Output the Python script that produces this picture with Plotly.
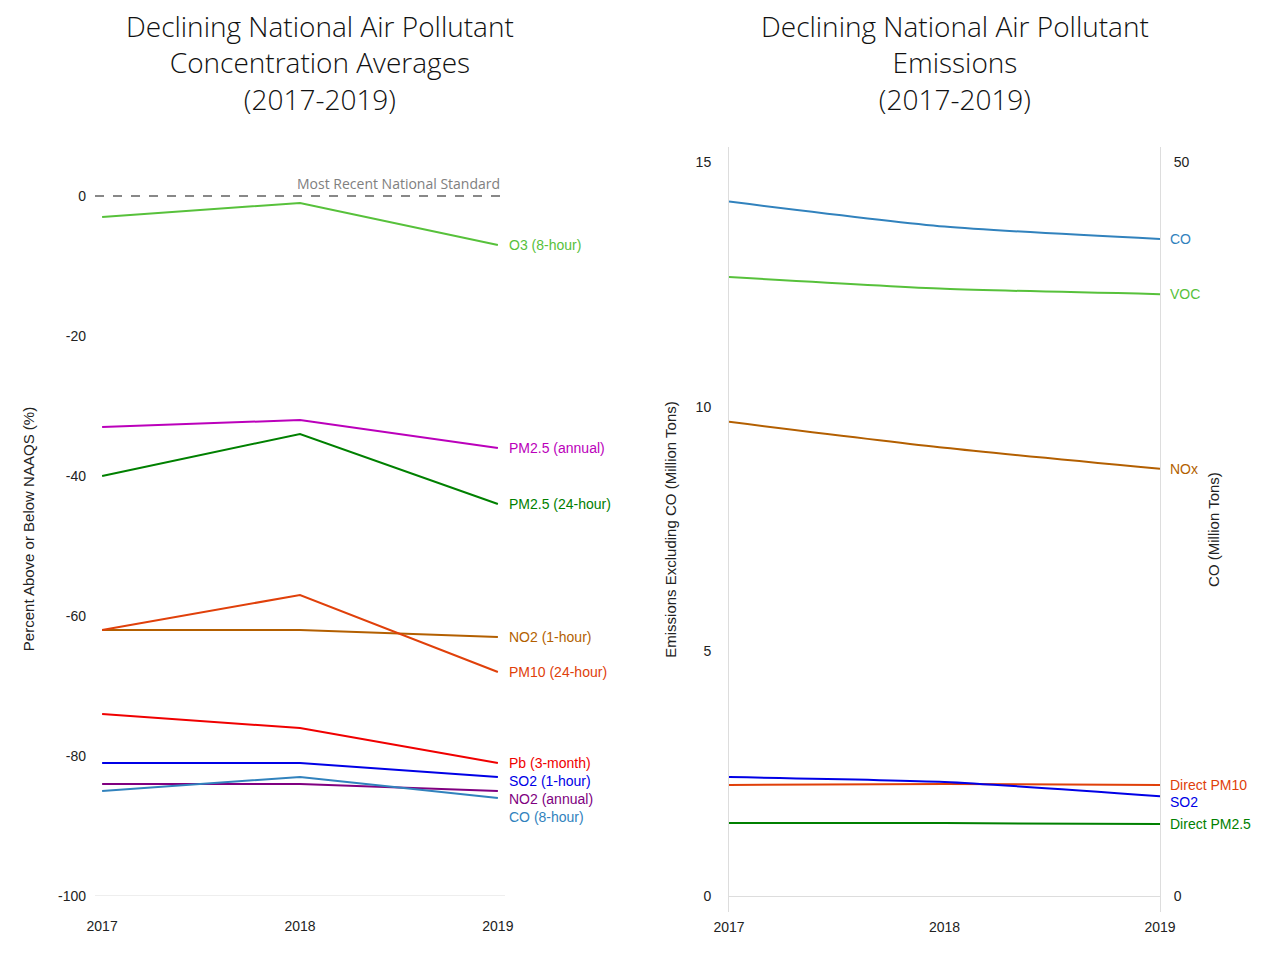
import plotly.graph_objects as go

years = [2017, 2018, 2019]

# left chart: percent above/below NAAQS
conc_names = ["O3 (8-hour)", "PM2.5 (annual)", "PM2.5 (24-hour)", "NO2 (1-hour)",
              "PM10 (24-hour)", "Pb (3-month)", "SO2 (1-hour)", "NO2 (annual)", "CO (8-hour)"]
o3_8h = [-3, -1, -7]
pm25_annual = [-33, -32, -36]
pm25_24h = [-40, -34, -44]
no2_1h = [-62, -62, -63]
pm10_24h = [-62, -57, -68]
pb_3m = [-74, -76, -81]
so2_1h = [-81, -81, -83]
no2_annual = [-84, -84, -85]
co_8h = [-85, -83, -86]
conc_values = [o3_8h, pm25_annual, pm25_24h, no2_1h, pm10_24h, pb_3m, so2_1h, no2_annual, co_8h]
conc_colors = ["#57c13b", "#bb00bb", "#008000", "#b35f00", "#e0400a",
               "#f00000", "#0000e6", "#800080", "#3182bd"]
conc_label_shift = [0, 0, 0, 0, 0, 0, -4, -8, -19]
conc_ticks = [0, -20, -40, -60, -80, -100]

# right chart: emissions (million tons)
emis_names = ["VOC", "NOx", "Direct PM10", "SO2", "Direct PM2.5"]
voc = [12.65, 12.41, 12.30]
nox = [9.69, 9.16, 8.73]
pm10_direct = [2.27, 2.29, 2.27]
so2 = [2.43, 2.33, 2.04]
pm25_direct = [1.49, 1.49, 1.47]
emis_values = [voc, nox, pm10_direct, so2, pm25_direct]
emis_colors = ["#57c13b", "#b35f00", "#e0400a", "#0000e6", "#008000"]
emis_label_shift = [0, 0, 0, -6, 0]
co_emis = [47.3, 45.6, 44.75]
co_color = "#3182bd"

fig = go.Figure()

for name, vals, col, sh in zip(conc_names, conc_values, conc_colors, conc_label_shift):
    fig.add_trace(go.Scatter(x=years, y=vals, mode="lines", name=name,
                             line=dict(color=col, width=2), xaxis="x", yaxis="y",
                             showlegend=False))
    fig.add_annotation(x=years[-1], y=vals[-1], xref="x", yref="y", text=name,
                       showarrow=False, xanchor="left", xshift=9, yshift=sh,
                       font=dict(color=col, size=14, family="Liberation Sans"))

# standard line at zero
fig.add_trace(go.Scatter(x=[2017 - 0.036, 2019 + 0.036], y=[0, 0], mode="lines",
                         line=dict(color="#888888", width=2, dash="dash"),
                         xaxis="x", yaxis="y", showlegend=False, hoverinfo="skip"))
fig.add_annotation(x=2019 + 0.02, y=0, xref="x", yref="y", text="Most Recent National Standard",
                   showarrow=False, xanchor="right", yanchor="bottom", yshift=1,
                   font=dict(color="#808080", size=14, family="Open Sans"))

for name, vals, col, sh in zip(emis_names, emis_values, emis_colors, emis_label_shift):
    fig.add_trace(go.Scatter(x=years, y=vals, mode="lines", name=name,
                             line=dict(color=col, width=2, shape="spline", smoothing=0.6),
                             xaxis="x2", yaxis="y2", showlegend=False))
    fig.add_annotation(x=years[-1], y=vals[-1], xref="x2", yref="y2", text=name,
                       showarrow=False, xanchor="left", xshift=8, yshift=sh,
                       font=dict(color=col, size=14, family="Liberation Sans"))

fig.add_trace(go.Scatter(x=years, y=co_emis, mode="lines", name="CO",
                         line=dict(color=co_color, width=2, shape="spline", smoothing=0.6),
                         xaxis="x2", yaxis="y3", showlegend=False))
fig.add_annotation(x=years[-1], y=co_emis[-1], xref="x2", yref="y3", text="CO",
                   showarrow=False, xanchor="left", xshift=8,
                   font=dict(color=co_color, size=14, family="Liberation Sans"))

tick_font = dict(size=14, color="#222222", family="Liberation Sans")
axis_title_font = dict(size=15, color="#222222", family="Liberation Sans")
title_font = dict(size=28, color="#111111", family="Open Sans", weight=300)

fig.add_annotation(x=320 / 1280, y=1 - 5 / 960, xref="paper", yref="paper",
                   text="Declining National Air Pollutant<br>Concentration Averages<br>(2017-2019)",
                   showarrow=False, xanchor="center", yanchor="top", font=title_font)
fig.add_annotation(x=955 / 1280, y=1 - 5 / 960, xref="paper", yref="paper",
                   text="Declining National Air Pollutant<br>Emissions<br>(2017-2019)",
                   showarrow=False, xanchor="center", yanchor="top", font=title_font)

fig.update_layout(
    width=1280, height=960,
    margin=dict(l=0, r=0, t=0, b=0, autoexpand=False),
    plot_bgcolor="white", paper_bgcolor="white",
    xaxis=dict(domain=[95 / 1280, 505 / 1280], range=[2017 - 0.036, 2019 + 0.036],
               tickvals=years, showgrid=False, zeroline=False, tickfont=tick_font,
               ticks="", ticklabelstandoff=20, automargin=False),
    yaxis=dict(domain=[1 - 896 / 960, 1 - 162 / 960], range=[-100, 4.857],
               tickvals=conc_ticks, ticktext=[str(t) for t in conc_ticks],
               showgrid=False, zeroline=False,
               tickfont=tick_font, ticks="", ticklabelstandoff=8, automargin=False,
               title=dict(text="Percent Above or Below NAAQS (%)",
                          font=axis_title_font, standoff=19)),
    xaxis2=dict(domain=[729 / 1280, 1160 / 1280], range=[2017, 2019], tickvals=years,
                showgrid=False, zeroline=False, tickfont=tick_font, ticks="",
                ticklabelstandoff=5, anchor="y2", automargin=False),
    yaxis2=dict(domain=[1 - 912 / 960, 1 - 147 / 960], range=[-0.327, 15.307],
                tickvals=[0, 5, 10, 15], showgrid=False, zeroline=True,
                zerolinecolor="#dddddd", zerolinewidth=1,
                showline=True, linecolor="#dddddd", linewidth=1,
                tickfont=tick_font, ticks="", ticklabelstandoff=14, anchor="x2",
                automargin=False,
                title=dict(text="Emissions Excluding CO (Million Tons)",
                           font=axis_title_font, standoff=15)),
    yaxis3=dict(domain=[1 - 912 / 960, 1 - 147 / 960], range=[-1.09, 51.02],
                tickvals=[0, 50], showgrid=False, zeroline=False,
                showline=True, linecolor="#dddddd", linewidth=1,
                tickfont=tick_font, ticks="", ticklabelstandoff=10,
                overlaying="y2", side="right", anchor="x2", automargin=False,
                title=dict(text="CO (Million Tons)", font=axis_title_font, standoff=19)),
)

fig.add_shape(type="line", xref="x", yref="y", x0=2017 - 0.036, x1=2019 + 0.036,
              y0=-100, y1=-100, line=dict(color="#dddddd", width=1), layer="below")

fig.write_html("out.html", config={"displayModeBar": False},
               post_script="document.body.style.margin='0';")
